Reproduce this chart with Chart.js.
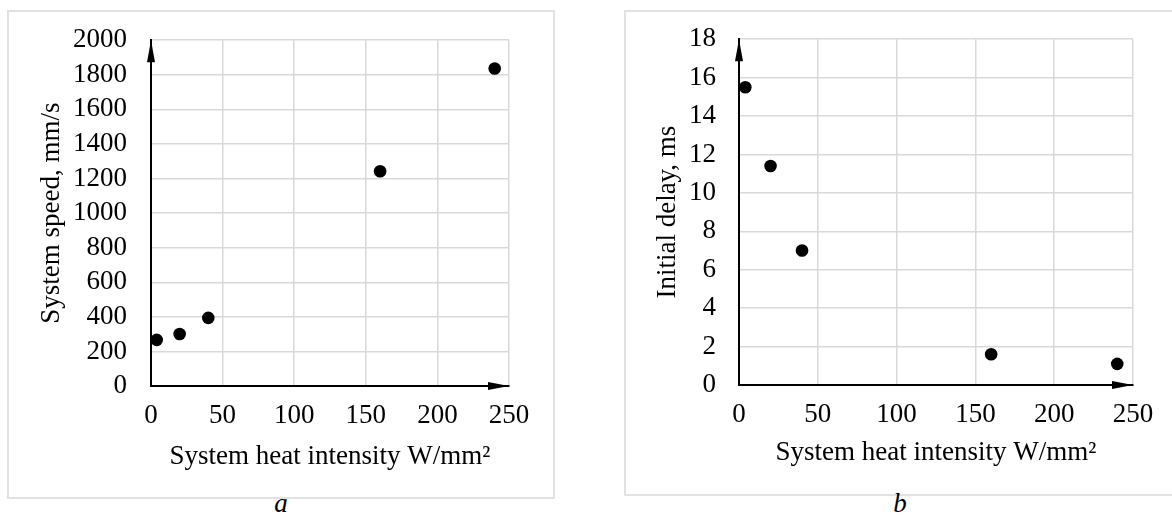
<!DOCTYPE html>
<html>
<head>
<meta charset="utf-8">
<script src="https://cdn.jsdelivr.net/npm/chart.js@4.4.1/dist/chart.umd.min.js"></script>
<style>
  html, body { margin: 0; padding: 0; background: #fff; }
  body { width: 1172px; height: 525px; position: relative; overflow: hidden; }
  .frame { position: absolute; box-sizing: border-box; border: 2px solid #e2e2e2; }
  .cap { position: absolute; width: 60px; text-align: center; font: italic 27px 'Liberation Serif', 'Times New Roman', serif; line-height: 32px; color: #000; }
  canvas { position: absolute; top: 0; }
</style>
</head>
<body>
<div class="frame" style="left:7px;top:10px;width:548px;height:489px;"></div>
<div class="frame" style="left:624px;top:10px;width:600px;height:486px;"></div>
<div class="cap" style="left:251px;top:487px;">a</div>
<div class="cap" style="left:870px;top:487px;">b</div>
<canvas id="chartA" style="left:0px;"></canvas>
<canvas id="chartB" style="left:580px;"></canvas>
<script>
// heat intensity, W/mm2 (same for both panels)
const heatIntensity = [4, 20, 40, 160, 240];
// panel a
const systemSpeed = [267, 301, 394, 1242, 1836];
// panel b
const initialDelay = [15.5, 11.4, 7.0, 1.6, 1.1];

const xTitle = 'System heat intensity W/mm²';
const speedTitle = 'System speed, mm/s';
const delayTitle = 'Initial delay, ms';

Chart.defaults.font.family = "'Liberation Serif', 'Times New Roman', serif";
Chart.defaults.font.size = 27;
Chart.defaults.color = '#000';

// arrow heads at the end of both axes
const arrowPlugin = {
  id: 'arrows',
  afterDraw(chart) {
    const { ctx, scales: { x, y } } = chart;
    const x0 = x.getPixelForValue(0);
    const y0 = y.getPixelForValue(0);
    const top = y.getPixelForValue(y.max);
    const right = x.getPixelForValue(x.max);
    ctx.save();
    ctx.fillStyle = '#000';
    ctx.beginPath();
    ctx.moveTo(x0, top);
    ctx.lineTo(x0 - 4, top + 22);
    ctx.lineTo(x0 + 4, top + 22);
    ctx.closePath();
    ctx.fill();
    ctx.beginPath();
    ctx.moveTo(right, y0);
    ctx.lineTo(right - 21, y0 - 4);
    ctx.lineTo(right - 21, y0 + 4);
    ctx.closePath();
    ctx.fill();
    ctx.restore();
  }
};

function makeChart(id, w, values, yMax, yStep, yLabel, opts) {
  const canvas = document.getElementById(id);
  canvas.width = w;
  canvas.height = 525;
  canvas.style.width = w + 'px';
  canvas.style.height = '525px';
  return new Chart(canvas, {
    type: 'scatter',
    data: {
      datasets: [{
        data: heatIntensity.map((v, i) => ({ x: v, y: values[i] })),
        backgroundColor: '#000',
        borderWidth: 0,
        pointRadius: 6.3,
        pointHoverRadius: 6.3
      }]
    },
    options: {
      responsive: false,
      animation: false,
      events: [],
      layout: { padding: { top: opts.top, right: opts.right, left: 0, bottom: 0 } },
      plugins: { legend: { display: false }, tooltip: { enabled: false } },
      scales: {
        x: {
          type: 'linear',
          min: 0,
          max: 250,
          afterFit: s => { s.height = opts.xHeight; },
          ticks: { stepSize: 50, padding: opts.xTickPad, maxRotation: 0, autoSkip: false, callback: v => String(v) },
          grid: { color: '#d9d9d9', lineWidth: 1.5, drawTicks: false },
          border: { display: true, color: '#000', width: 2 },
          title: { display: true, text: xTitle, padding: { top: 0, bottom: opts.xTitlePad } }
        },
        y: {
          type: 'linear',
          min: 0,
          max: yMax,
          afterFit: s => { s.width = opts.yWidth; },
          ticks: { stepSize: yStep, padding: opts.yTickPad, autoSkip: false, callback: v => String(v) },
          grid: { color: '#d9d9d9', lineWidth: 1.5, drawTicks: false },
          border: { display: true, color: '#000', width: 2 },
          title: { display: true, text: yLabel, padding: { top: opts.yTitlePad, bottom: 0 } }
        }
      }
    },
    plugins: [arrowPlugin]
  });
}

makeChart('chartA', 580, systemSpeed, 2000, 200, speedTitle, {
  top: 36, right: 71, xHeight: 139, yWidth: 151,
  xTickPad: 14, xTitlePad: 52, yTickPad: 24, yTitlePad: 36
});

makeChart('chartB', 592, initialDelay, 18, 2, delayTitle, {
  top: 36, right: 39, xHeight: 140, yWidth: 159,
  xTickPad: 14, xTitlePad: 56, yTickPad: 23, yTitlePad: 72
});
</script>
</body>
</html>
